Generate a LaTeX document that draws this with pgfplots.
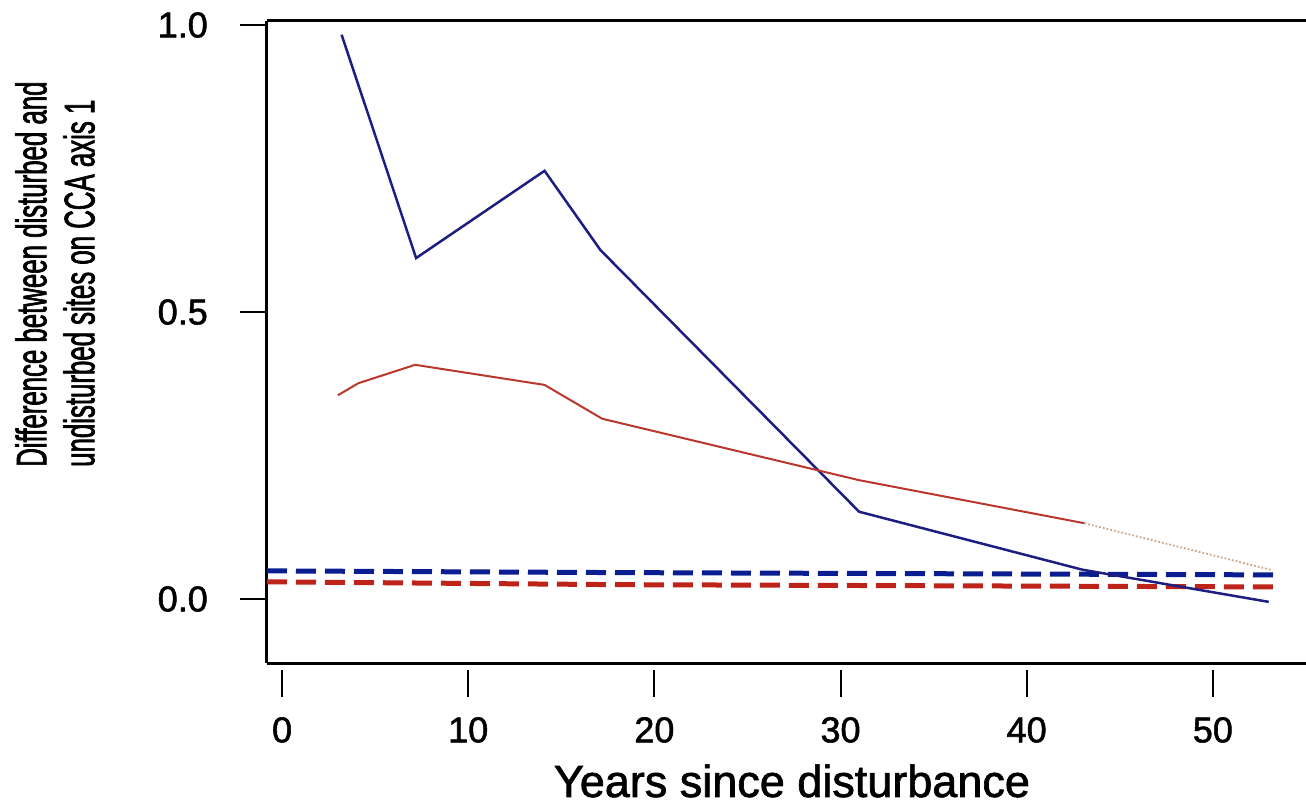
\documentclass[border=0pt]{standalone}
\usepackage{fontspec}
\setmainfont{Liberation Sans}[RawFeature={embolden=1.5}]
\newfontfamily\narrowfont{Liberation Sans}[FakeStretch=0.6, RawFeature={embolden=1.5}]
\usepackage{pgfplots}
\pgfplotsset{compat=1.18}
\definecolor{blueline}{RGB}{30,30,130}
\definecolor{redline}{RGB}{185,55,45}
\definecolor{bluedash}{RGB}{10,30,145}
\definecolor{reddash}{RGB}{190,35,25}
\definecolor{dotline}{RGB}{205,165,135}
\begin{document}
\begin{tikzpicture}
\begin{axis}[
  at={(0pt,0pt)}, anchor=south west,
  scale only axis, width=1039pt, height=642pt,
  xmin=-0.81, xmax=55.0, ymin=-0.1115, ymax=1.007,
  axis x line*=bottom, axis y line*=left,
  axis line style={line width=3pt, black, -},
  clip=false,
  xtick={0,10,20,30,40,50},
  ytick={0,0.5,1}, yticklabels={0.0,0.5,1.0},
  tick align=outside, major tick length=27pt,
  tick style={line width=2pt, black},
  xtick style={yshift=-7pt},
  /pgf/number format/assume math mode=true,
  every tick label/.append style={font=\fontsize{36}{40}\selectfont, inner sep=0pt},
  yticklabel shift=32pt,
  xticklabel shift=27pt,
  xlabel={Years since disturbance},
  xlabel style={font=\fontsize{45}{50}\selectfont, at={(axis description cs:0.5053,-0.2087)}, anchor=base, inner sep=0pt},
  ylabel={Difference between disturbed and\\undisturbed sites on CCA axis 1},
  ylabel style={font=\narrowfont\fontsize{43}{48}\selectfont, align=left, at={(axis description cs:-0.2040,0.3053)}, anchor=west, inner sep=0pt},
]
\draw[line width=3pt, black] (rel axis cs:0,1) -- (rel axis cs:1,1);
% dashed reference lines
\addplot[bluedash, line width=5pt, dash pattern=on 20pt off 9pt] coordinates {
  (-0.81,0.049) (18,0.046) (53.3,0.042)};
\addplot[reddash, line width=5pt, dash pattern=on 20pt off 9pt] coordinates {
  (-0.81,0.030) (18,0.025) (53.3,0.021)};
% blue solid
\addplot[blueline, line width=2.5pt] coordinates {
  (3.2,0.983) (7.2,0.594) (14.1,0.746) (17.1,0.608) (31.0,0.152) (43.0,0.051) (53.0,-0.005)};
% red solid
\addplot[redline, line width=2pt] coordinates {
  (3.0,0.355) (4.1,0.376) (7.15,0.408) (14.1,0.373) (17.2,0.314) (31.0,0.207) (43.1,0.132)};
% red dotted continuation
\addplot[dotline, line width=1.8pt, dotted] coordinates {
  (43.1,0.132) (53.1,0.051)};
\end{axis}
\pgfresetboundingbox
\useasboundingbox (-267pt,-143pt) rectangle (1039pt,663pt);
\end{tikzpicture}
\end{document}
